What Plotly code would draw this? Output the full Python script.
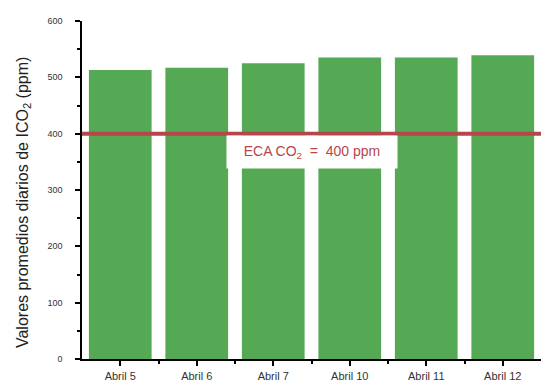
import plotly.graph_objects as go

categories = ["Abril 5", "Abril 6", "Abril 7", "Abril 10", "Abril 11", "Abril 12"]
co2_values = [513, 517, 525, 535, 535, 539]
eca_limit = 400
y_ticks = [0, 100, 200, 300, 400, 500, 600]

bar_color = "#55a955"
line_color = "#b5474b"
font_family = "Liberation Sans, Arial, sans-serif"

xpos = list(range(len(categories)))

fig = go.Figure()
fig.add_trace(go.Bar(
    x=xpos, y=co2_values, marker=dict(color=bar_color, line=dict(width=0)),
    width=0.82, showlegend=False, hoverinfo="skip",
))

fig.add_shape(type="line", xref="paper", yref="y", x0=0, x1=1, y0=eca_limit, y1=eca_limit,
              line=dict(color=line_color, width=4))

fig.add_annotation(
    x=2.51, y=367, xref="x", yref="y",
    text="ECA CO<sub>2</sub>  =  400 ppm", showarrow=False,
    font=dict(family=font_family, size=14, color=line_color),
    bgcolor="white", width=168, height=30,
)

fig.add_annotation(
    xref="paper", yref="paper", x=-0.1285, y=0.4615,
    text="Valores promedios diarios de ICO<sub>2</sub> (ppm)", showarrow=False,
    textangle=-90, font=dict(family=font_family, size=16, color="#222"),
    xanchor="center", yanchor="middle",
)

fig.update_layout(
    width=541, height=382,
    margin=dict(l=82, r=0, t=21, b=23, autoexpand=False),
    paper_bgcolor="white", plot_bgcolor="white",
    font=dict(family=font_family, color="#333"),
    bargap=0.18,
)

fig.update_xaxes(
    range=[-0.5, len(categories) - 0.5], automargin=False,
    tickmode="array", tickvals=xpos, ticktext=categories,
    ticks="outside", ticklen=5, tickwidth=1.5, tickcolor="black",
    minor=dict(tickmode="array", tickvals=[i + 0.5 for i in xpos[:-1]],
               ticks="outside", ticklen=3, tickwidth=1.5, tickcolor="black"),
    showline=True, linecolor="black", linewidth=1.5,
    showgrid=False, zeroline=False,
    tickfont=dict(size=11, color="#333"), ticklabelstandoff=1,
)

fig.update_yaxes(
    range=[0, 600], automargin=False, tickmode="array", tickvals=y_ticks,
    ticks="outside", ticklen=5, tickwidth=1.5, tickcolor="black",
    minor=dict(dtick=50, ticks="outside", ticklen=3, tickwidth=1.5, tickcolor="black"),
    showline=True, linecolor="black", linewidth=1.5,
    showgrid=False, zeroline=False,
    tickfont=dict(size=9, color="#333"), ticklabelstandoff=11,
)

fig.write_html("out.html", config={"displayModeBar": False},
               post_script="document.body.style.margin='0';")
